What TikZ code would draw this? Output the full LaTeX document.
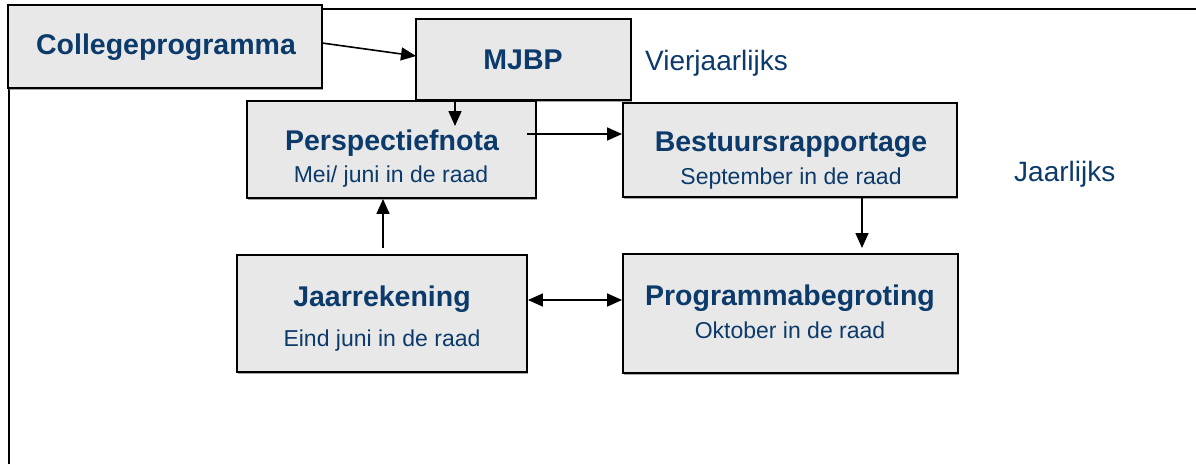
\documentclass[tikz,border=0pt]{standalone}
\usepackage{fontspec}
\setmainfont{Liberation Sans}
\usetikzlibrary{arrows.meta,calc,shadows}
\definecolor{navy}{HTML}{0B3A6B}
\definecolor{boxgray}{HTML}{E8E8E8}
\begin{document}
\begin{tikzpicture}[x=1pt,y=-1pt,
  box/.style={draw=black,line width=1.9pt,fill=boxgray,inner sep=0pt,
    drop shadow={shadow xshift=1.2pt,shadow yshift=-1.5pt,fill=gray,opacity=0.7}},
  ttl/.style={text=navy,font=\fontsize{28.5}{31}\selectfont\bfseries,inner sep=0pt},
  sub/.style={text=navy,font=\fontsize{23}{26}\selectfont,inner sep=0pt},
  lbl/.style={text=navy,font=\fontsize{28}{31}\selectfont,inner sep=0pt,anchor=west},
  tip/.style={Triangle[length=15pt,width=13pt]},
  arr/.style={line width=1.6pt,-{Triangle[length=15pt,width=13pt]}},
  darr/.style={line width=1.6pt,{Triangle[length=15pt,width=13pt]}-{Triangle[length=15pt,width=13pt]}}]
\useasboundingbox (0,0) rectangle (1196,464);
% frame
\coordinate (fbl) at (9,464);
\coordinate (ftl) at (9,9);
\coordinate (ftr) at (1196,9);
\draw[line width=2.4pt] (fbl) -- (ftl) -- (ftr);
% boxes
\node[box,minimum width=314pt,minimum height=83pt] (coll) at (165,46.5) {};
\node[box,minimum width=215pt,minimum height=81pt] (mjbp) at (523.5,59.5) {};
\node[box,minimum width=289pt,minimum height=97pt] (persp) at (391.5,149.5) {};
\node[box,minimum width=334pt,minimum height=94pt] (best) at (790,150) {};
\node[box,minimum width=290pt,minimum height=117pt] (jaar) at (382,313.5) {};
\node[box,minimum width=335pt,minimum height=119pt] (prog) at (790.5,313.5) {};
% texts
\node[ttl] (collT) at (166,47) {Collegeprogramma};
\node[ttl] (mjbpT) at (523,60) {MJBP};
\node[lbl] (vier) at (645,63) {Vierjaarlijks};
\node[ttl] (perspT) at (392,143) {Perspectiefnota};
\node[sub] (perspS) at (391,177) {Mei/ juni in de raad};
\node[ttl] (bestT) at (791,145) {Bestuursrapportage};
\node[sub] (bestS) at (791,179) {September in de raad};
\node[lbl] (jaarl) at (1014,174) {Jaarlijks};
\node[ttl] (jaarT) at (382,299) {Jaarrekening};
\node[sub] (jaarS) at (382,341) {Eind juni in de raad};
\node[ttl] (progT) at (790,298) {Programmabegroting};
\node[sub] (progS) at (790,330) {Oktober in de raad};
% connectors
\coordinate (cstart) at (322,43);
\coordinate (cend) at (416,56);
\draw[arr] (cstart) -- (cend);
\coordinate (pin) at (455,126);
\draw[arr] (mjbp.south -| pin) -- (pin);
\coordinate (pout) at (527,134);
\draw[arr] (pout) -- (pout -| best.west);
\coordinate (bx) at (862,248);
\draw[arr] (best.south -| bx) -- (bx);
\coordinate (jx) at (383,248);
\draw[arr] (jx) -- (jx |- persp.south);
\coordinate (dy) at (700,300);
\draw[darr] (jaar.east |- dy) -- (prog.west |- dy);
\end{tikzpicture}
\end{document}
